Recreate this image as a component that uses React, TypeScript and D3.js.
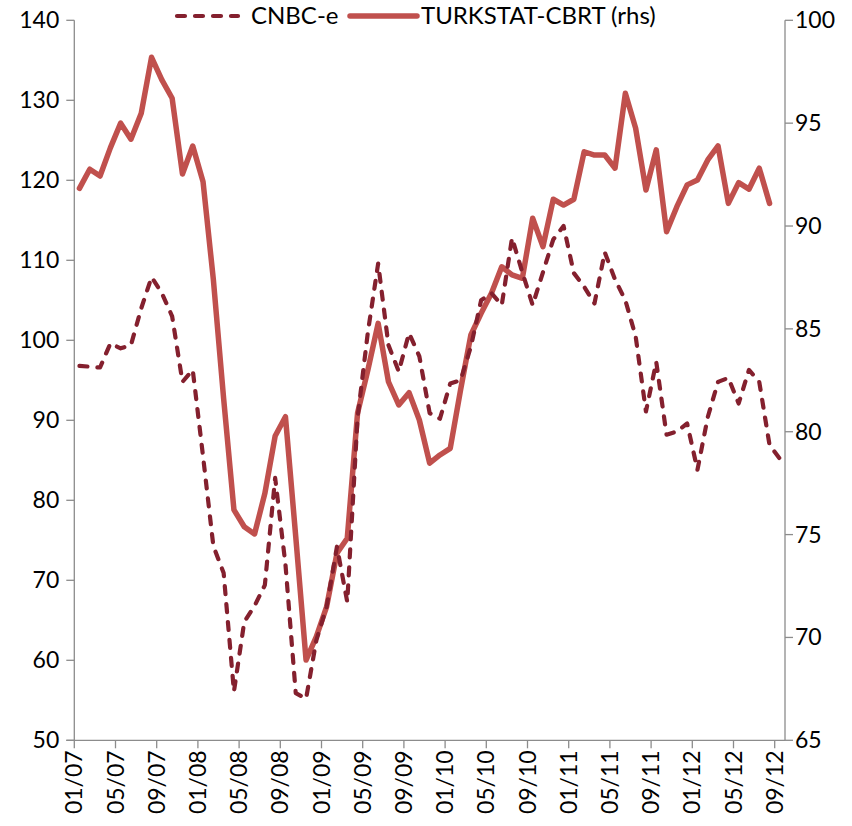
import React from "react";
import * as d3 from "d3";

// monthly, first point = 01/07
const cnbce = [
  96.8, 96.7, 96.6, 99.6, 99.0, 99.4, 104.0, 107.9, 105.9, 103.0, 94.8, 96.3,
  85.5, 74.3, 70.9, 56.1, 64.8, 66.8, 69.4, 82.8, 72.0, 55.9, 55.2, 62.5,
  66.7, 74.2, 67.3, 90.3, 101.0, 109.6, 99.4, 96.1, 100.9, 98.0, 90.9, 90.2,
  94.6, 95.0, 99.2, 105.0, 105.9, 104.4, 112.8, 108.5, 104.4, 108.5, 112.6, 114.3,
  108.4, 106.7, 104.6, 111.0, 107.6, 105.0, 100.5, 91.1, 97.3, 88.2, 88.6, 89.6,
  83.8, 90.4, 94.8, 95.3, 92.1, 96.3, 94.8, 86.9, 85.2
];

const turkstat = [
  91.83, 92.76, 92.43, 93.8, 95.0, 94.22, 95.48, 98.2, 97.1, 96.21, 92.53, 93.89,
  92.15, 87.4, 81.6, 76.2, 75.38, 75.03, 77.0, 79.79, 80.73, 74.9, 68.9, 70.04,
  71.5, 74.09, 74.82, 80.9, 83.0, 85.27, 82.43, 81.3, 81.9, 80.57, 78.47, 78.87,
  79.19, 82.03, 84.7, 85.76, 86.73, 88.02, 87.62, 87.46, 90.38, 89.0, 91.3, 91.02,
  91.3, 93.61, 93.45, 93.45, 92.81, 96.45, 94.75, 91.75, 93.7, 89.72, 90.94, 92.0,
  92.24, 93.21, 93.89, 91.1, 92.11, 91.79, 92.81, 91.1
];

const xLabels = [
  "01/07", "05/07", "09/07", "01/08", "05/08", "09/08", "01/09", "05/09", "09/09",
  "01/10", "05/10", "09/10", "01/11", "05/11", "09/11", "01/12", "05/12", "09/12"
];

const leftTicks = [50, 60, 70, 80, 90, 100, 110, 120, 130, 140];
const rightTicks = [65, 70, 75, 80, 85, 90, 95, 100];

const W = 852;
const H = 826;
const left = 74.3;
const right = 785;
const top = 20.3;
const bottom = 740.3;

const axisColor = "#8c8c8c";
const dashColor = "#84202e";
const solidColor = "#c0504d";
const font = "Lato, 'Open Sans', sans-serif";

export default function App() {
  const x = d3.scaleLinear().domain([0, 69]).range([left, right]);
  const yL = d3.scaleLinear().domain([50, 140]).range([bottom, top]);
  const yR = d3.scaleLinear().domain([65, 100]).range([bottom, top]);

  // points sit mid-month between the month ticks
  const dashLine = d3
    .line<number>()
    .x((_, i) => x(i + 0.5))
    .y(d => yL(d));
  const solidLine = d3
    .line<number>()
    .x((_, i) => x(i + 0.5))
    .y(d => yR(d));

  return (
    <svg
      width={W}
      height={H}
      style={{ position: "absolute", left: 0, top: 0, background: "#fff" }}
      fontFamily={font}
    >
      {/* left axis */}
      <line x1={left} x2={left} y1={top} y2={bottom} stroke={axisColor} strokeWidth={1.3} />
      {leftTicks.map(t => (
        <g key={"l" + t}>
          <line x1={left - 8} x2={left} y1={yL(t)} y2={yL(t)} stroke={axisColor} strokeWidth={1.3} />
          <text x={left - 15} y={yL(t)} dy="0.35em" textAnchor="end" fontSize={23} fill="#000">
            {t}
          </text>
        </g>
      ))}
      {/* right axis */}
      <line x1={right} x2={right} y1={top} y2={bottom} stroke={axisColor} strokeWidth={1.3} />
      {rightTicks.map(t => (
        <g key={"r" + t}>
          <line x1={right} x2={right + 8} y1={yR(t)} y2={yR(t)} stroke={axisColor} strokeWidth={1.3} />
          <text x={right + 10} y={yR(t)} dy="0.35em" textAnchor="start" fontSize={23} fill="#000">
            {t}
          </text>
        </g>
      ))}
      {/* x axis */}
      <line x1={left - 8} x2={right} y1={bottom} y2={bottom} stroke={axisColor} strokeWidth={1.3} />
      {xLabels.map((lab, k) => {
        const px = x(k * 4);
        return (
          <g key={lab}>
            <line x1={px} x2={px} y1={bottom} y2={bottom + 8} stroke={axisColor} strokeWidth={1.3} />
            <text
              transform={`translate(${px},${bottom + 10}) rotate(-90)`}
              dy="0.35em"
              textAnchor="end"
              fontSize={23}
              fill="#000"
            >
              {lab}
            </text>
          </g>
        );
      })}

      {/* series */}
      <path
        d={solidLine(turkstat) || ""}
        fill="none"
        stroke={solidColor}
        strokeWidth={5.5}
        strokeLinejoin="round"
        strokeLinecap="round"
      />
      <path
        d={dashLine(cnbce) || ""}
        fill="none"
        stroke={dashColor}
        strokeWidth={4.2}
        strokeDasharray="8 10"
        strokeLinejoin="round"
        strokeLinecap="round"
      />

      {/* legend */}
      <g>
        <line x1={177} x2={238} y1={16} y2={16} stroke={dashColor} strokeWidth={4.2} strokeDasharray="8 10" strokeLinecap="round" />
        <text x={251} y={16} dy="0.35em" fontSize={24} fill="#000">
          CNBC-e
        </text>
        <line x1={350} x2={417} y1={16} y2={16} stroke={solidColor} strokeWidth={5.5} strokeLinecap="round" />
        <text x={421} y={16} dy="0.35em" fontSize={24} fill="#000">
          TURKSTAT-CBRT (rhs)
        </text>
      </g>
    </svg>
  );
}
